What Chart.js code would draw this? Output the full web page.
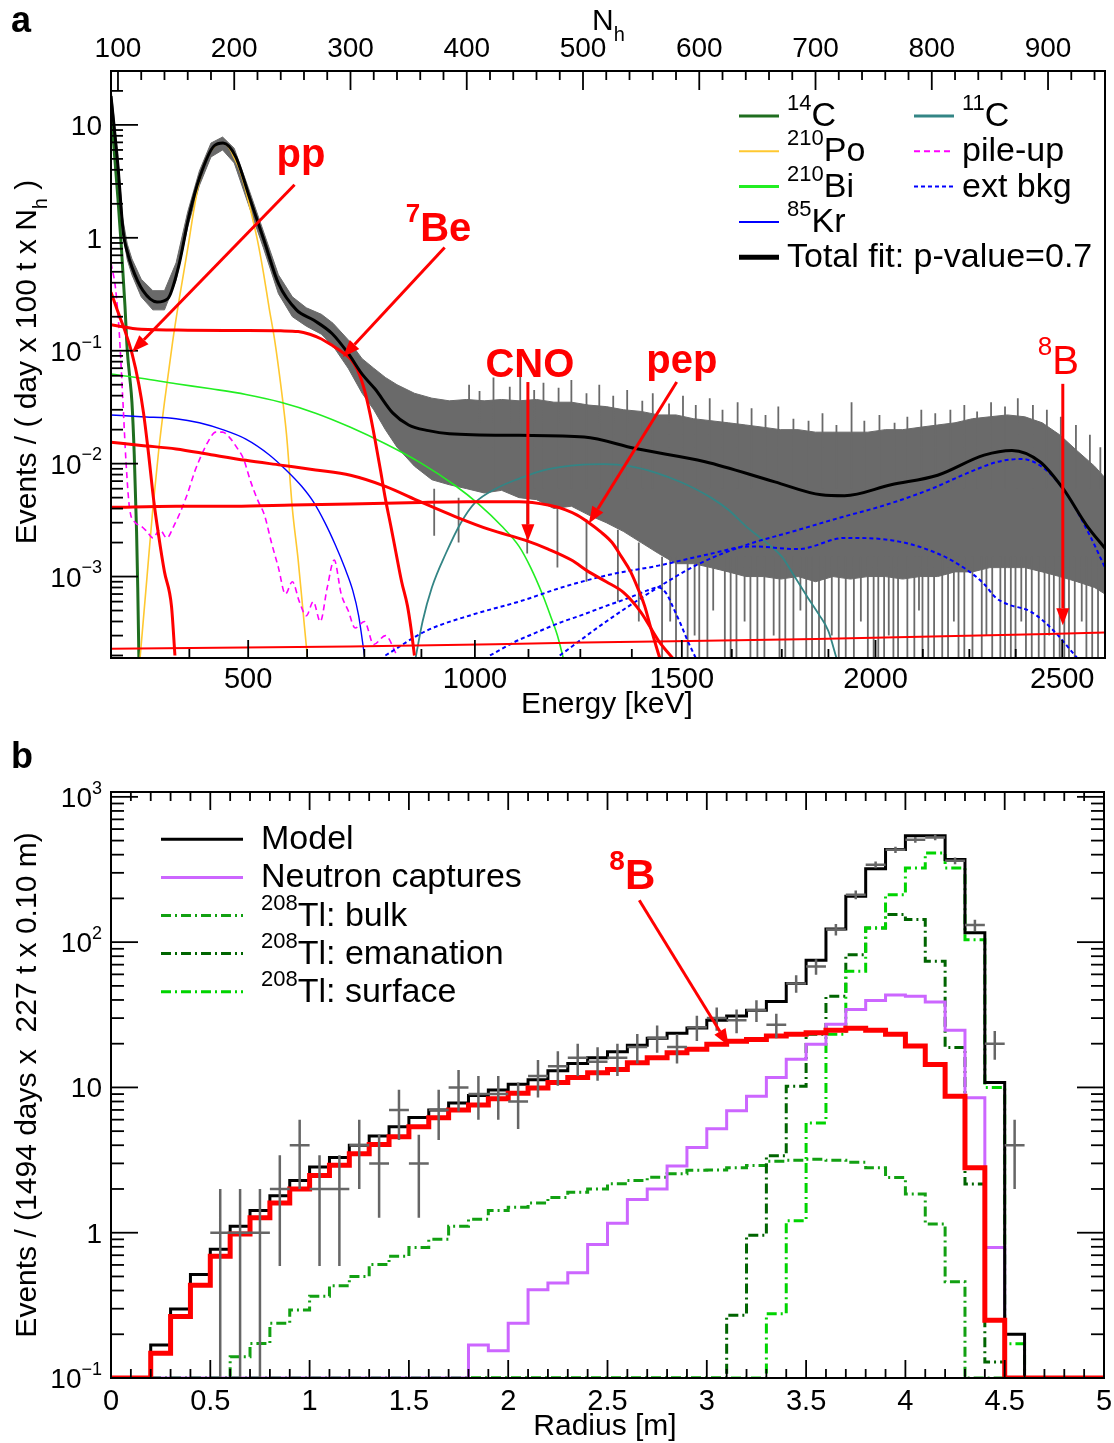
<!DOCTYPE html>
<html>
<head>
<meta charset="utf-8">
<title>Spectral fit and radial distribution</title>
<script src="https://cdn.jsdelivr.net/npm/chart.js@4.4.1/dist/chart.umd.min.js"></script>
<style>
  body { margin: 0; background: #fff; }
  #wrap { position: relative; width: 1114px; height: 1443px; }
  canvas { position: absolute; left: 0; }
  #spectrum { top: 0; }
  #radial { top: 720px; }
</style>
</head>
<body>
<div id="wrap">
  <canvas id="spectrum" width="1114" height="720"></canvas>
  <canvas id="radial" width="1114" height="723"></canvas>
</div>
<script>
// ---------- panel a: energy spectrum (x axis is N_h, energy ticks mapped onto it) ----------
const energyTicks  = [375, 500, 625, 750, 875, 1000, 1125, 1250, 1375, 1500, 1625, 1750, 1875, 2000, 2125, 2250, 2375, 2500];
const energyTickNh = [161.4, 212, 262.7, 311.9, 361, 407, 453.1, 497.7, 542, 585, 628, 671, 711.1, 751.6, 792.3, 832.3, 872.2, 912.2];

// data band (dense part of the measured points with their error bars)
const bandNh = [94, 97, 100, 104, 108, 112, 120, 130, 140, 150,
  160, 170, 180, 190, 200, 212, 225, 238, 250, 262,
  275, 285, 298, 310, 320, 330, 340, 355, 370, 385,
  400, 415, 430, 445, 460, 475, 490, 505, 520, 535,
  550, 565, 580, 595, 610, 625, 640, 655, 670, 685,
  700, 715, 730, 745, 760, 775, 790, 805, 820, 835,
  850, 865, 880, 895, 910, 925, 940, 949];
const bandHi = [21, 10.5, 5, 1.5, 0.88, 0.65, 0.43, 0.34, 0.34, 0.6,
  1.7, 3.9, 6.9, 7.8, 6.2, 2.8, 1.15, 0.47, 0.3, 0.24,
  0.21, 0.175, 0.125, 0.085, 0.07, 0.058, 0.05, 0.042, 0.038, 0.036,
  0.037, 0.036, 0.037, 0.036, 0.037, 0.035, 0.035, 0.033, 0.032, 0.03,
  0.029, 0.027, 0.027, 0.025, 0.024, 0.023, 0.022, 0.021, 0.02, 0.02,
  0.019, 0.019, 0.019, 0.019, 0.02, 0.02, 0.021, 0.022, 0.023, 0.025,
  0.026, 0.027, 0.026, 0.023, 0.018, 0.013, 0.0095, 0.0075];
const bandLo = [15, 7.8, 3.7, 1.1, 0.64, 0.47, 0.3, 0.23, 0.23, 0.42,
  1.25, 2.9, 5.2, 6.0, 4.6, 2.0, 0.82, 0.32, 0.2, 0.165,
  0.14, 0.11, 0.07, 0.042, 0.03, 0.02, 0.014, 0.0095, 0.0072, 0.0065,
  0.006, 0.0055, 0.0058, 0.005, 0.0048, 0.004, 0.0042, 0.0035, 0.003, 0.0025,
  0.002, 0.0016, 0.0013, 0.0013, 0.0012, 0.0011, 0.001, 0.001, 0.00095, 0.001,
  0.0009, 0.001, 0.00095, 0.001, 0.001, 0.00095, 0.001, 0.001, 0.0011, 0.0011,
  0.0012, 0.0012, 0.0012, 0.0011, 0.001, 0.0009, 0.0008, 0.0007];

// upward fluctuations above the dense band
const upNh = [402, 411, 423, 437, 446, 458, 466, 479, 490, 503,
  514, 526, 538, 551, 560, 574, 586, 597, 609, 620,
  633, 645, 657, 668, 681, 694, 706, 718, 731, 742,
  755, 768, 779, 791, 803, 816, 828, 839, 851, 863,
  874, 887, 899, 911, 924, 936, 945];
const upTop = [0.05, 0.044, 0.058, 0.048, 0.06, 0.045, 0.052, 0.047, 0.055, 0.042,
  0.05, 0.04, 0.045, 0.036, 0.042, 0.034, 0.04, 0.033, 0.038, 0.03,
  0.035, 0.031, 0.027, 0.032, 0.025, 0.024, 0.028, 0.022, 0.035, 0.024,
  0.027, 0.023, 0.026, 0.03, 0.028, 0.03, 0.033, 0.029, 0.035, 0.032,
  0.038, 0.033, 0.03, 0.026, 0.022, 0.018, 0.014];
const upBase = 0.006;

// error bars of low-count bins reaching further down
const spikeNh = [372, 393, 452, 478, 503, 530, 548, 568, 575, 580,
  590, 596, 600, 607, 612, 622, 627, 632, 639, 644,
  650, 656, 664, 669, 674, 681, 687, 692, 697, 703,
  708, 714, 720, 726, 733, 739, 745, 750, 754, 759,
  763, 767, 771, 779, 785, 789, 792, 797, 802, 809,
  814, 819, 823, 828, 835, 843, 847, 852, 859, 863,
  868, 872, 877, 881, 886, 892, 897, 901, 905, 910,
  914, 918, 923, 929, 933, 938, 943];
const spikeTop = [0.006, 0.005, 0.0045, 0.004, 0.0032, 0.0026, 0.002, 0.0015, 0.0015, 0.0015,
  0.0015, 0.0015, 0.0015, 0.0015, 0.0015, 0.0015, 0.0015, 0.0015, 0.0015, 0.0015,
  0.0015, 0.0015, 0.0015, 0.0015, 0.0015, 0.0015, 0.0015, 0.0015, 0.0015, 0.0015,
  0.0015, 0.0015, 0.0015, 0.0015, 0.0015, 0.0015, 0.0015, 0.0015, 0.0015, 0.0015,
  0.0015, 0.0015, 0.0015, 0.0015, 0.0015, 0.0015, 0.0015, 0.0015, 0.0015, 0.0015,
  0.0015, 0.0015, 0.0015, 0.0015, 0.0015, 0.0015, 0.0015, 0.0015, 0.0015, 0.0015,
  0.0015, 0.0015, 0.0015, 0.0015, 0.0015, 0.0015, 0.0015, 0.0015, 0.0015, 0.0015,
  0.0015, 0.0015, 0.0015, 0.0015, 0.0015, 0.0015, 0.0015];
const spikeLow = [0.0023, 0.002, 0.0016, 0.0012, 0.0009, 0.0006, 0.0004, 0.00019, 0.0004, 0.00019,
  0.00019, 0.0003, 0.00019, 0.00019, 0.0005, 0.00019, 0.00019, 0.00019, 0.0004, 0.00019,
  0.00019, 0.00019, 0.0003, 0.00019, 0.00019, 0.00019, 0.0005, 0.00019, 0.00019, 0.00019,
  0.00019, 0.0003, 0.00019, 0.00019, 0.00019, 0.0004, 0.00019, 0.00019, 0.00019, 0.00019,
  0.0003, 0.00019, 0.00019, 0.00019, 0.00019, 0.0005, 0.00019, 0.00019, 0.00019, 0.00019,
  0.00019, 0.0004, 0.00019, 0.00019, 0.00019, 0.00019, 0.0003, 0.00019, 0.00019, 0.00019,
  0.00019, 0.00019, 0.0004, 0.00019, 0.00019, 0.00019, 0.00019, 0.0003, 0.00019, 0.00019,
  0.00019, 0.00019, 0.00019, 0.0004, 0.00019, 0.00019, 0.00019];

const fitNh  = [94, 97, 100, 104.6, 108, 112, 121.5, 133.6, 143, 152, 161, 170.6, 182.6, 190.4, 201.3, 213.6, 225.6, 238.2, 253.5, 268.6,
  284.1, 297.9, 310, 321, 336.5, 350, 367, 385, 445, 501, 545, 605, 665, 705, 725, 765, 805, 845, 869, 893, 913, 933, 949];
const fitVal = [18, 9, 4.3, 1.1, 0.75, 0.55, 0.34, 0.27, 0.29, 0.55, 1.54, 3.5, 6.5, 6.9, 5.2, 2.2, 0.95, 0.39, 0.23, 0.186,
  0.142, 0.095, 0.062, 0.046, 0.028, 0.022, 0.0196, 0.0184, 0.0178, 0.0172, 0.0136, 0.0104, 0.0069, 0.0053, 0.0052, 0.0065, 0.0079, 0.0119, 0.0131, 0.0104, 0.006, 0.00286, 0.00178];

const c14Nh  = [94, 97, 100, 103, 106, 108, 110, 112, 114, 116, 117, 118];
const c14Val = [14, 5.5, 2.2, 0.8, 0.25, 0.1, 0.06, 0.035, 0.012, 0.0025, 0.0008, 0.00019];

const po210Nh  = [119, 125, 130, 135, 140, 147, 153, 160, 165, 170, 175, 180, 185, 190, 195, 200, 205, 210, 215, 220, 225, 230, 235, 240, 245, 250, 255, 260, 263];
const po210Val = [0.00019, 0.001, 0.004, 0.013, 0.035, 0.12, 0.3, 0.8, 1.7, 3.2, 4.7, 5.9, 6.7, 6.9, 6.4, 5.1, 3.9, 2.6, 1.6, 0.95, 0.5, 0.24, 0.12, 0.05, 0.018, 0.004, 0.0014, 0.0004, 0.00019];

const bi210Nh  = [94, 120, 150, 180, 210, 240, 270, 300, 330, 360, 390, 410, 430, 445, 455, 465, 472, 478, 483];
const bi210Val = [0.062, 0.057, 0.051, 0.046, 0.041, 0.035, 0.028, 0.021, 0.015, 0.0102, 0.0064, 0.0044, 0.0028, 0.00185, 0.0012, 0.0007, 0.00045, 0.0003, 0.00019];

const kr85Nh  = [94, 120, 150, 170, 190, 210, 230, 245, 258, 268, 278, 287, 295, 302, 307, 312];
const kr85Val = [0.027, 0.026, 0.025, 0.023, 0.02, 0.0165, 0.012, 0.0087, 0.0063, 0.0046, 0.003, 0.0019, 0.0012, 0.00075, 0.00045, 0.0002];

const c11Nh  = [356, 362, 370, 382, 395, 407, 425, 444, 462, 480, 500, 518, 540, 563, 585, 610, 625, 640, 655, 671, 682, 693, 703, 711, 718];
const c11Val = [0.00019, 0.0004, 0.0008, 0.0016, 0.003, 0.0045, 0.006, 0.0073, 0.0085, 0.0093, 0.0098, 0.0099, 0.0095, 0.0083, 0.0068, 0.005, 0.0039, 0.0028, 0.0021, 0.0015, 0.001, 0.00066, 0.00046, 0.00033, 0.00019];

const pileNh  = [94, 98, 101, 104, 107, 110, 115, 120, 125, 130, 136, 142, 148, 154, 160, 166, 172, 178, 184, 190,
  196, 202, 208, 214, 220, 226, 232, 238, 244, 250, 256, 262, 268, 274, 280, 286, 292, 298, 304, 312, 320, 330, 340];
const pileVal = [0.6, 0.35, 0.15, 0.04, 0.01, 0.004, 0.003, 0.0028, 0.0025, 0.0022, 0.0026, 0.0022, 0.0028, 0.0038, 0.0055, 0.0085, 0.012, 0.016, 0.019, 0.019,
  0.017, 0.014, 0.011, 0.007, 0.0048, 0.0035, 0.002, 0.0012, 0.0007, 0.0009, 0.0006, 0.00045, 0.0006, 0.0004, 0.0008, 0.0014, 0.0007, 0.0005, 0.00035, 0.0004, 0.00025, 0.0003, 0.0002];

// external background, three gamma components
const extKNh   = [420, 440, 460, 480, 500, 520, 540, 555, 565, 572, 578, 584, 590, 597];
const extKVal  = [0.0002, 0.00026, 0.00032, 0.00039, 0.00046, 0.00055, 0.00065, 0.00075, 0.0008, 0.0007, 0.00052, 0.00038, 0.00027, 0.00019];
const extBiNh  = [330, 365, 405, 445, 485, 525, 565, 605, 645, 685, 725, 765, 805, 830, 845, 855, 865, 885, 905, 925];
const extBiVal = [0.0002, 0.00033, 0.00046, 0.0006, 0.00082, 0.00105, 0.00125, 0.00155, 0.00185, 0.00175, 0.0022, 0.0021, 0.0016, 0.00115, 0.00086, 0.00065, 0.00057, 0.00049, 0.00033, 0.00019];
const extTlNh  = [480, 520, 560, 600, 640, 680, 720, 760, 800, 830, 857, 877, 897, 917, 937, 949];
const extTlVal = [0.0002, 0.0004, 0.00075, 0.0013, 0.0019, 0.0025, 0.0033, 0.0043, 0.006, 0.0082, 0.0104, 0.011, 0.009, 0.0052, 0.0022, 0.0012];

// solar neutrino components
const ppNh   = [94, 100, 106, 112, 118, 122, 126, 131, 135, 140, 146, 149];
const ppVal  = [0.33, 0.22, 0.15, 0.095, 0.05, 0.028, 0.013, 0.0045, 0.0023, 0.0011, 0.00055, 0.0002];
const be7Nh  = [94, 120, 160, 200, 240, 255, 265, 275, 285, 293, 300, 306, 312, 317, 321, 326, 330, 335, 339, 344, 349, 352, 355];
const be7Val = [0.17, 0.155, 0.152, 0.151, 0.15, 0.148, 0.14, 0.127, 0.11, 0.097, 0.085, 0.068, 0.045, 0.027, 0.0165, 0.0085, 0.0049, 0.0027, 0.00165, 0.0009, 0.00055, 0.00035, 0.0002];
const cnoNh  = [94, 120, 150, 180, 210, 240, 270, 300, 330, 360, 390, 420, 450, 470, 490, 505, 520, 535, 550, 565, 577];
const cnoVal = [0.0155, 0.0145, 0.0135, 0.012, 0.0107, 0.0097, 0.0088, 0.0079, 0.0063, 0.0046, 0.0034, 0.0026, 0.0021, 0.00175, 0.0014, 0.0011, 0.0009, 0.00072, 0.00048, 0.00027, 0.00019];
const pepNh  = [94, 150, 200, 250, 300, 350, 400, 445, 470, 485, 495, 505, 515, 525, 533, 541, 548, 553, 558, 563, 566];
const pepVal = [0.0041, 0.0042, 0.0042, 0.0043, 0.0044, 0.0045, 0.0046, 0.0046, 0.0043, 0.0039, 0.0035, 0.003, 0.0025, 0.002, 0.0015, 0.0011, 0.00075, 0.00055, 0.00036, 0.00024, 0.00019];
const b8Nh   = [94, 300, 500, 700, 900, 949];
const b8Val  = [0.00023, 0.00024, 0.00026, 0.00028, 0.00031, 0.00032];

// ---------- panel b: radial distribution, 0.1 m bins ----------
const binEdges = [0, 0.1, 0.2, 0.3, 0.4, 0.5, 0.6, 0.7, 0.8, 0.9, 1.0, 1.1, 1.2, 1.3, 1.4, 1.5, 1.6, 1.7, 1.8, 1.9,
  2.0, 2.1, 2.2, 2.3, 2.4, 2.5, 2.6, 2.7, 2.8, 2.9, 3.0, 3.1, 3.2, 3.3, 3.4, 3.5, 3.6, 3.7, 3.8, 3.9,
  4.0, 4.1, 4.2, 4.3, 4.4, 4.5, 4.6, 4.7, 4.8, 4.9, 5.0];
const modelCounts = [0.1, 0.1, 0.169, 0.298, 0.515, 0.77, 1.11, 1.42, 1.8, 2.29,
  2.83, 3.29, 4.0, 4.64, 5.36, 6.2, 7.0, 7.8, 8.8, 9.6,
  10.5, 11.3, 13, 14.6, 16, 17.6, 19.5, 21.8, 23.6, 25.6,
  29, 31, 34, 39, 52, 75, 123, 207, 320, 435,
  540, 540, 370, 116, 10.8, 0.2, 0.1, 0.1, 0.1, 0.1];
const b8Counts = [0.1, 0.1, 0.148, 0.265, 0.435, 0.69, 0.98, 1.27, 1.6, 2.0,
  2.48, 2.91, 3.5, 4.05, 4.57, 5.36, 6.19, 7.0, 7.58, 8.35,
  9.13, 9.9, 10.8, 11.7, 12.6, 13.3, 14.8, 16.0, 17.3, 18.3,
  19.8, 20.8, 21.4, 22.6, 23.2, 23.8, 24.7, 25.5, 24.7, 23.2,
  19.3, 14.4, 8.7, 2.8, 0.25, 0.1, 0.1, 0.1, 0.1, 0.1];
const neutronCounts = [0.1, 0.1, 0.1, 0.1, 0.1, 0.1, 0.1, 0.1, 0.1, 0.1,
  0.1, 0.1, 0.1, 0.1, 0.1, 0.1, 0.1, 0.1, 0.169, 0.154,
  0.238, 0.405, 0.45, 0.53, 0.83, 1.16, 1.69, 2.0, 2.88, 3.86,
  5.2, 6.9, 8.7, 11.7, 15.6, 19.8, 27.2, 34.4, 39.7, 43.2,
  42.5, 38.8, 24.7, 8.5, 0.79, 0.1, 0.1, 0.1, 0.1, 0.1];
const tlBulkCounts = [0.1, 0.1, 0.1, 0.1, 0.1, 0.1, 0.14, 0.173, 0.238, 0.294,
  0.365, 0.432, 0.5, 0.605, 0.69, 0.79, 0.9, 1.11, 1.24, 1.42,
  1.5, 1.6, 1.75, 1.9, 2.0, 2.17, 2.29, 2.41, 2.55, 2.69,
  2.7, 2.8, 2.9, 3.1, 3.15, 3.2, 3.15, 3.05, 2.8, 2.4,
  1.85, 1.15, 0.46, 0.1, 0.1, 0.1, 0.1, 0.1, 0.1, 0.1];
const tlEmanCounts = [0.1, 0.1, 0.1, 0.1, 0.1, 0.1, 0.1, 0.1, 0.1, 0.1,
  0.1, 0.1, 0.1, 0.1, 0.1, 0.1, 0.1, 0.1, 0.1, 0.1,
  0.1, 0.1, 0.1, 0.1, 0.1, 0.1, 0.1, 0.1, 0.1, 0.1,
  0.1, 0.27, 0.96, 3.38, 10.2, 23.2, 42.4, 82, 125, 155,
  143, 74, 18.8, 2.16, 0.129, 0.1, 0.1, 0.1, 0.1, 0.1];
const tlSurfCounts = [0.1, 0.1, 0.1, 0.1, 0.1, 0.1, 0.1, 0.1, 0.1, 0.1,
  0.1, 0.1, 0.1, 0.1, 0.1, 0.1, 0.1, 0.1, 0.1, 0.1,
  0.1, 0.1, 0.1, 0.1, 0.1, 0.1, 0.1, 0.1, 0.1, 0.1,
  0.1, 0.1, 0.1, 0.277, 1.21, 5.7, 23.2, 63, 125, 212,
  324, 410, 324, 104, 10, 0.172, 0.1, 0.1, 0.1, 0.1];

const dataR = [0.55, 0.65, 0.75, 0.85, 0.95, 1.05, 1.15, 1.25, 1.35, 1.45, 1.55, 1.65, 1.75, 1.85, 1.95, 2.05, 2.15, 2.25, 2.35, 2.45,
  2.55, 2.65, 2.75, 2.85, 2.95, 3.05, 3.15, 3.25, 3.35, 3.45, 3.55, 3.65, 3.75, 3.85, 3.95, 4.05, 4.15, 4.25, 4.35, 4.45, 4.55];
const dataN = [1, 1, 1, 2, 4, 2, 2, 4, 3, 7, 3, 7, 10, 9, 9, 8, 12, 14, 16, 15,
  16, 19, 22, 19, 26, 30, 29, 34, 27, 52, 68, 122, 212, 341, 432, 506, 525, 363, 131, 20, 4];
const dataErr = [1, 1, 1, 1.41, 2, 1.41, 1.41, 2, 1.73, 2.65, 1.73, 2.65, 3.16, 3, 3, 2.83, 3.46, 3.74, 4, 3.87,
  4, 4.36, 4.69, 4.36, 5.1, 5.48, 5.39, 5.83, 5.2, 7.21, 8.25, 11.05, 14.56, 18.47, 20.78, 22.49, 22.91, 19.05, 11.45, 4.47, 2];

// ---------- styling ----------
const FONT = '"Liberation Sans", Arial, Helvetica, sans-serif';
const COL = {
  data: '#6a6a6a', fit: '#000000', red: '#ff0000',
  c14: '#1f6e1f', po: '#ffc830', bi: '#22ee22', kr: '#0000ff', c11: '#338585',
  pile: '#ff00ff', ext: '#0000ff',
  neutron: '#cc66ff', bulk: '#12a012', eman: '#006400', surf: '#00d400'
};
const DASH_DOT = [10, 4, 2, 4];
const NH_MIN = 94, NH_MAX = 949, YA_MIN = 1.9e-4, YA_MAX = 30;
const YB_MIN = 0.1, YB_MAX = 1080;

Chart.defaults.font.family = FONT;

function pts(xs, ys) { return xs.map((x, i) => ({ x: x, y: ys[i] })); }

function curve(label, xs, ys, color, width, order, extra) {
  return Object.assign({
    label: label, data: pts(xs, ys), borderColor: color, borderWidth: width,
    pointRadius: 0, fill: false, cubicInterpolationMode: 'monotone', order: order
  }, extra || {});
}

// vertical segments separated by gaps
function segments(xs, lo, hi) {
  const out = [];
  xs.forEach((x, i) => {
    const l = Array.isArray(lo) ? lo[i] : lo;
    const h = Array.isArray(hi) ? hi[i] : hi;
    out.push({ x: x, y: h }, { x: x, y: l }, { x: x, y: null });
  });
  return out;
}

function hist(values) {
  const d = values.map((v, i) => ({ x: binEdges[i], y: v }));
  d.push({ x: binEdges[values.length], y: values[values.length - 1] });
  return d;
}

function histSet(label, values, color, width, order, dash) {
  return { label: label, data: hist(values), borderColor: color, borderWidth: width, borderDash: dash || [],
    stepped: 'before', pointRadius: 0, fill: false, order: order };
}

function crosses() {
  const out = [];
  dataR.forEach((r, i) => {
    const n = dataN[i], e = dataErr[i];
    out.push({ x: r, y: Math.max(n - e, YB_MIN) }, { x: r, y: n + e }, { x: r, y: null });
    out.push({ x: r - 0.05, y: n }, { x: r + 0.05, y: n }, { x: r, y: null });
  });
  return out;
}

// ---------- text and drawing helpers ----------
function fontOf(p, size, bold) {
  const s = (p.sup || p.sub) ? Math.round(size * 0.66) : size;
  return (bold ? 'bold ' : '') + s + 'px ' + FONT;
}

function drawRich(ctx, parts, x, y, size, align, color, bold) {
  ctx.save();
  ctx.fillStyle = color || '#000';
  ctx.textAlign = 'left';
  ctx.textBaseline = 'alphabetic';
  let w = 0;
  parts.forEach(p => { ctx.font = fontOf(p, size, bold); w += ctx.measureText(p.t).width; });
  let cx = x;
  if (align === 'center') cx = x - w / 2;
  if (align === 'right') cx = x - w;
  parts.forEach(p => {
    ctx.font = fontOf(p, size, bold);
    const dy = p.sup ? -size * 0.47 : (p.sub ? size * 0.35 : 0);
    ctx.fillText(p.t, cx, y + dy);
    cx += ctx.measureText(p.t).width;
  });
  ctx.restore();
}

function tick(ctx, x1, y1, x2, y2) {
  ctx.beginPath(); ctx.moveTo(x1, y1); ctx.lineTo(x2, y2); ctx.stroke();
}

function drawArrow(ctx, x1, y1, x2, y2, color) {
  const ang = Math.atan2(y2 - y1, x2 - x1);
  const len = 17, half = 6.5;
  const bx = x2 - len * Math.cos(ang), by = y2 - len * Math.sin(ang);
  ctx.save();
  ctx.strokeStyle = color; ctx.fillStyle = color; ctx.lineWidth = 3;
  ctx.beginPath(); ctx.moveTo(x1, y1); ctx.lineTo(bx, by); ctx.stroke();
  ctx.beginPath();
  ctx.moveTo(x2, y2);
  ctx.lineTo(bx + half * Math.sin(ang), by - half * Math.cos(ang));
  ctx.lineTo(bx - half * Math.sin(ang), by + half * Math.cos(ang));
  ctx.closePath(); ctx.fill();
  ctx.restore();
}

function legendLine(ctx, x1, x2, y, color, width, dash) {
  ctx.save();
  ctx.strokeStyle = color; ctx.lineWidth = width; ctx.setLineDash(dash || []);
  tick(ctx, x1, y, x2, y);
  ctx.restore();
}

function decadeLabel(e) {
  if (e === 0) return [{ t: '1' }];
  if (e === 1) return [{ t: '10' }];
  return [{ t: '10' }, { t: (e < 0 ? '\u2212' : '') + Math.abs(e), sup: true }];
}

function rotatedTitle(ctx, parts, x, y, size) {
  ctx.save();
  ctx.translate(x, y);
  ctx.rotate(-Math.PI / 2);
  drawRich(ctx, parts, 0, 0, size, 'center');
  ctx.restore();
}

// labels of the neutrino components, anchored in data coordinates
const spectrumNotes = [
  { parts: [{ t: 'pp' }], at: [257.4, 4.26], from: [251.9, 2.95], to: [112.1, 0.0974], bold: true },
  { parts: [{ t: '7', sup: true }, { t: 'Be' }], at: [375.7, 0.933], from: [381, 0.82], to: [293.5, 0.088], bold: true },
  { parts: [{ t: 'CNO' }], at: [454.3, 0.0586], from: [452.6, 0.0528], to: [452.6, 0.00205], bold: true },
  { parts: [{ t: 'pep' }], at: [585, 0.0636], from: [580.6, 0.0528], to: [505, 0.00295], bold: true },
  { parts: [{ t: '8', sup: true }, { t: 'B' }], at: [908.8, 0.0624], from: [912.7, 0.0509], to: [912.7, 0.00037], bold: false }
];

const spectrumLegend = [
  { col: 0, row: 0, parts: [{ t: '14', sup: true }, { t: 'C' }], color: COL.c14, width: 3 },
  { col: 0, row: 1, parts: [{ t: '210', sup: true }, { t: 'Po' }], color: COL.po, width: 2 },
  { col: 0, row: 2, parts: [{ t: '210', sup: true }, { t: 'Bi' }], color: COL.bi, width: 3 },
  { col: 0, row: 3, parts: [{ t: '85', sup: true }, { t: 'Kr' }], color: COL.kr, width: 2 },
  { col: 0, row: 4, parts: [{ t: 'Total fit: p-value=0.7' }], color: COL.fit, width: 5 },
  { col: 1, row: 0, parts: [{ t: '11', sup: true }, { t: 'C' }], color: COL.c11, width: 3 },
  { col: 1, row: 1, parts: [{ t: 'pile-up' }], color: COL.pile, width: 2, dash: [6, 4] },
  { col: 1, row: 2, parts: [{ t: 'ext bkg' }], color: COL.ext, width: 2, dash: [4, 3] }
];

const spectrumAxes = {
  id: 'spectrumAxes',
  afterDraw(chart) {
    const ctx = chart.ctx, a = chart.chartArea;
    const xs = chart.scales.x, ys = chart.scales.y;
    ctx.save();
    ctx.strokeStyle = '#000';
    ctx.lineWidth = 2;
    ctx.strokeRect(a.left, a.top, a.right - a.left, a.bottom - a.top);
    ctx.lineWidth = 1.8;

    // left axis, logarithmic
    for (let e = -4; e <= 2; e++) {
      for (let m = 1; m <= 9; m++) {
        const v = m * Math.pow(10, e);
        if (v < YA_MIN || v > YA_MAX) continue;
        const y = ys.getPixelForValue(v);
        tick(ctx, a.left, y, a.left + (m === 1 ? 27 : 12), y);
        if (m === 1) drawRich(ctx, decadeLabel(e), a.left - 9, y + 10, 28, 'right');
      }
    }
    // bottom axis: energy, placed at the matching N_h
    energyTicks.forEach((E, i) => {
      const nh = energyTickNh[i];
      if (nh < NH_MIN || nh > NH_MAX) return;
      const x = xs.getPixelForValue(nh);
      const major = E % 500 === 0;
      tick(ctx, x, a.bottom, x, a.bottom - (major ? 18 : 9));
      if (major) drawRich(ctx, [{ t: String(E) }], x, a.bottom + 30, 29, 'center');
    });
    // top axis: N_h
    for (let n = 100; n <= NH_MAX; n += 20) {
      const x = xs.getPixelForValue(n);
      const major = n % 100 === 0;
      tick(ctx, x, a.top, x, a.top + (major ? 19 : 9));
      if (major) drawRich(ctx, [{ t: String(n) }], x, a.top - 14, 28, 'center');
    }

    // titles
    drawRich(ctx, [{ t: 'N' }, { t: 'h', sub: true }], 592, 30, 30, 'left');
    drawRich(ctx, [{ t: 'Energy [keV]' }], 607, 713, 30, 'center');
    rotatedTitle(ctx, [{ t: 'Events / ( day x 100 t x N' }, { t: 'h', sub: true }, { t: ' )' }], 36, 362, 30);
    drawRich(ctx, [{ t: 'a' }], 11, 32, 36, 'left', '#000', true);

    // legend
    spectrumLegend.forEach(it => {
      const x1 = it.col ? 914 : 739, x2 = x1 + 40;
      const y = 116 + it.row * 35.3;
      legendLine(ctx, x1, x2, y, it.color, it.width, it.dash);
      drawRich(ctx, it.parts, x2 + 8, y + 10, 34, 'left');
    });

    // component labels and arrows
    spectrumNotes.forEach(n => {
      drawRich(ctx, n.parts, xs.getPixelForValue(n.at[0]), ys.getPixelForValue(n.at[1]), 40, 'center', COL.red, n.bold);
      drawArrow(ctx, xs.getPixelForValue(n.from[0]), ys.getPixelForValue(n.from[1]),
        xs.getPixelForValue(n.to[0]), ys.getPixelForValue(n.to[1]), COL.red);
    });
    ctx.restore();
  }
};

const radialLegend = [
  { parts: [{ t: 'Model' }], color: '#000', width: 3 },
  { parts: [{ t: 'Neutron captures' }], color: COL.neutron, width: 3 },
  { parts: [{ t: '208', sup: true }, { t: 'Tl: bulk' }], color: COL.bulk, width: 3, dash: DASH_DOT },
  { parts: [{ t: '208', sup: true }, { t: 'Tl: emanation' }], color: COL.eman, width: 3, dash: DASH_DOT },
  { parts: [{ t: '208', sup: true }, { t: 'Tl: surface' }], color: COL.surf, width: 3, dash: DASH_DOT }
];

const radialAxes = {
  id: 'radialAxes',
  afterDraw(chart) {
    const ctx = chart.ctx, a = chart.chartArea;
    const xs = chart.scales.x, ys = chart.scales.y;
    ctx.save();
    ctx.strokeStyle = '#000';
    ctx.lineWidth = 2;
    ctx.strokeRect(a.left, a.top, a.right - a.left, a.bottom - a.top);
    ctx.lineWidth = 1.8;

    for (let i = 0; i <= 50; i++) {
      const r = i / 10;
      const x = xs.getPixelForValue(r);
      const major = i % 5 === 0;
      const len = major ? 18 : 9;
      tick(ctx, x, a.bottom, x, a.bottom - len);
      tick(ctx, x, a.top, x, a.top + len);
      if (major) drawRich(ctx, [{ t: String(r) }], x, a.bottom + 32, 29, 'center');
    }
    for (let e = -1; e <= 3; e++) {
      for (let m = 1; m <= 9; m++) {
        const v = m * Math.pow(10, e);
        if (v < YB_MIN || v > YB_MAX) continue;
        const y = ys.getPixelForValue(v);
        const len = m === 1 ? 27 : 13;
        tick(ctx, a.left, y, a.left + len, y);
        tick(ctx, a.right, y, a.right - len, y);
        if (m === 1) drawRich(ctx, decadeLabel(e), a.left - 9, y + 10, 28, 'right');
      }
    }

    drawRich(ctx, [{ t: 'Radius [m]' }], 605, 715, 30, 'center');
    rotatedTitle(ctx, [{ t: 'Events / (1494 days x  227 t x 0.10 m)' }], 36, 365, 30);
    drawRich(ctx, [{ t: 'b' }], 11, 48, 36, 'left', '#000', true);

    radialLegend.forEach((it, i) => {
      const y = 119.3 + i * 38.1;
      legendLine(ctx, 161, 243, y, it.color, it.width, it.dash);
      drawRich(ctx, it.parts, 261, y + 10, 34, 'left');
    });

    // 8B label with arrow
    drawRich(ctx, [{ t: '8', sup: true }, { t: 'B' }], xs.getPixelForValue(2.625), ys.getPixelForValue(231), 42, 'center', COL.red, true);
    drawArrow(ctx, xs.getPixelForValue(2.66), ys.getPixelForValue(194), xs.getPixelForValue(3.111), ys.getPixelForValue(19.3), COL.red);
    ctx.restore();
  }
};

// ---------- charts ----------
new Chart(document.getElementById('spectrum'), {
  type: 'line',
  data: {
    datasets: [
      { label: 'data low', data: pts(bandNh, bandLo), borderColor: COL.data, borderWidth: 1, pointRadius: 0, fill: false, order: 30 },
      { label: 'data', data: pts(bandNh, bandHi), borderColor: COL.data, borderWidth: 1, pointRadius: 0,
        fill: '-1', backgroundColor: COL.data, order: 29 },
      { label: 'data spread low', data: segments(spikeNh, spikeLow, spikeTop), borderColor: COL.data, borderWidth: 1.8,
        pointRadius: 0, fill: false, tension: 0, spanGaps: false, order: 28 },
      { label: 'data spread high', data: segments(upNh, upBase, upTop), borderColor: COL.data, borderWidth: 1.8,
        pointRadius: 0, fill: false, tension: 0, spanGaps: false, order: 27 },
      curve('14C', c14Nh, c14Val, COL.c14, 3, 14),
      curve('210Po', po210Nh, po210Val, COL.po, 1.6, 13),
      curve('210Bi', bi210Nh, bi210Val, COL.bi, 1.6, 12),
      curve('85Kr', kr85Nh, kr85Val, COL.kr, 1.4, 11),
      curve('11C', c11Nh, c11Val, COL.c11, 1.8, 10),
      curve('pile-up', pileNh, pileVal, COL.pile, 1.6, 9, { borderDash: [6, 4] }),
      curve('ext bkg K', extKNh, extKVal, COL.ext, 2, 8, { borderDash: [4, 3] }),
      curve('ext bkg Bi', extBiNh, extBiVal, COL.ext, 2, 7, { borderDash: [4, 3] }),
      curve('ext bkg Tl', extTlNh, extTlVal, COL.ext, 2, 6, { borderDash: [4, 3] }),
      curve('pp', ppNh, ppVal, COL.red, 3, 5),
      curve('7Be', be7Nh, be7Val, COL.red, 3, 4),
      curve('CNO', cnoNh, cnoVal, COL.red, 3, 3),
      curve('pep', pepNh, pepVal, COL.red, 3, 2),
      curve('8B', b8Nh, b8Val, COL.red, 2, 1),
      curve('Total fit', fitNh, fitVal, COL.fit, 3, 0)
    ]
  },
  options: {
    responsive: false, animation: false, devicePixelRatio: 1, events: [],
    layout: { padding: { left: 111, top: 71, right: 9, bottom: 62 } },
    plugins: { legend: { display: false }, tooltip: { enabled: false } },
    scales: {
      x: { type: 'linear', min: NH_MIN, max: NH_MAX, display: false },
      y: { type: 'logarithmic', min: YA_MIN, max: YA_MAX, display: false }
    }
  },
  plugins: [spectrumAxes]
});

new Chart(document.getElementById('radial'), {
  type: 'line',
  data: {
    datasets: [
      { label: 'Data', data: crosses(), borderColor: '#666666', borderWidth: 2.5, pointRadius: 0, fill: false,
        tension: 0, spanGaps: false, order: 0 },
      histSet('8B', b8Counts, COL.red, 5, 1),
      histSet('Model', modelCounts, '#000000', 3, 2),
      histSet('Neutron captures', neutronCounts, COL.neutron, 3, 3),
      histSet('208Tl: surface', tlSurfCounts, COL.surf, 3, 4, DASH_DOT),
      histSet('208Tl: emanation', tlEmanCounts, COL.eman, 3, 5, DASH_DOT),
      histSet('208Tl: bulk', tlBulkCounts, COL.bulk, 3, 6, DASH_DOT)
    ]
  },
  options: {
    responsive: false, animation: false, devicePixelRatio: 1, events: [],
    layout: { padding: { left: 111, top: 72, right: 10, bottom: 65 } },
    plugins: { legend: { display: false }, tooltip: { enabled: false } },
    scales: {
      x: { type: 'linear', min: 0, max: 5, display: false },
      y: { type: 'logarithmic', min: YB_MIN, max: YB_MAX, display: false }
    }
  },
  plugins: [radialAxes]
});
</script>
</body>
</html>
